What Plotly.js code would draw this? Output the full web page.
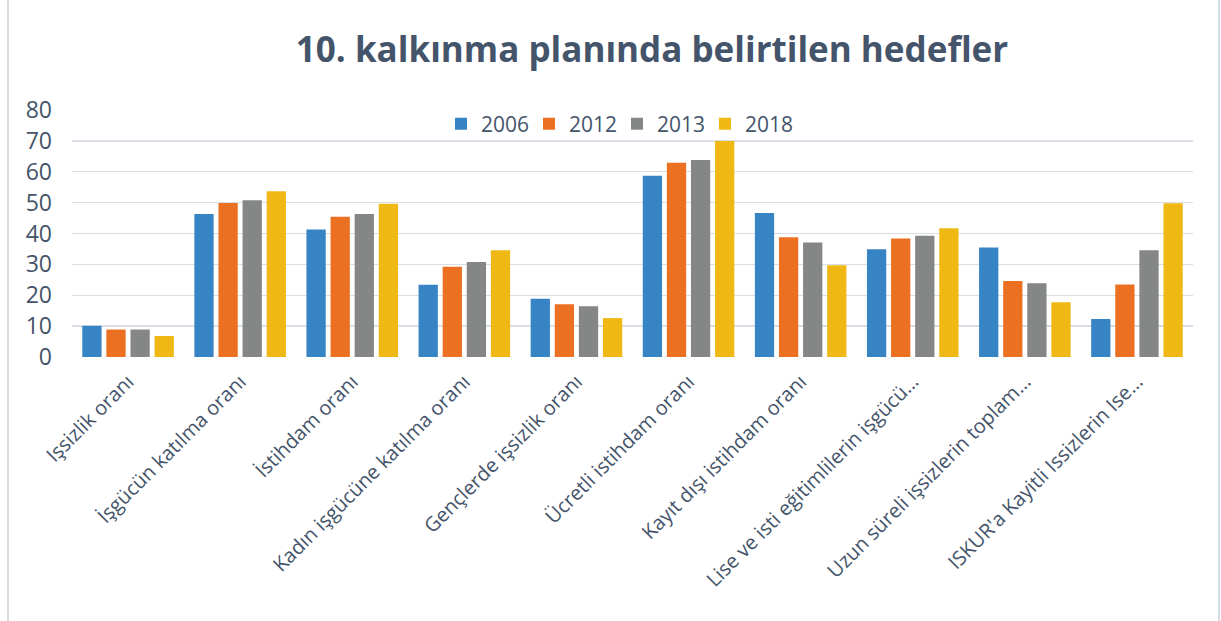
<!DOCTYPE html>
<html>
<head>
<meta charset="utf-8">
<script src="https://cdn.plot.ly/plotly-3.0.1.min.js"></script>
<style>html,body{margin:0;padding:0;background:#fff;}#chart{width:1221px;height:621px;}</style>
</head>
<body>
<div id="chart"></div>
<script>
const categories = [
  "Işsizlik oranı",
  "İşgücün katılma oranı",
  "İstihdam oranı",
  "Kadın işgücüne katılma oranı",
  "Gençlerde işsizlik oranı",
  "Ücretli istihdam oranı",
  "Kayıt dışı istihdam oranı",
  "Lise ve isti eğitimlilerin işgücü…",
  "Uzun süreli işsizlerin toplam…",
  "ISKUR'a Kayitli Issizlerin Ise…"
];
const seriesNames = ["2006", "2012", "2013", "2018"];
const values2006 = [10.1, 46.3, 41.3, 23.4, 18.9, 58.7, 46.6, 34.9, 35.5, 12.3];
const values2012 = [8.9, 49.9, 45.4, 29.2, 17.1, 62.9, 38.8, 38.4, 24.6, 23.5];
const values2013 = [8.9, 50.8, 46.3, 30.8, 16.4, 63.8, 37.1, 39.3, 23.9, 34.6];
const values2018 = [6.8, 53.7, 49.6, 34.6, 12.6, 70.0, 29.7, 41.7, 17.7, 49.8];
const yTicks = [0, 10, 20, 30, 40, 50, 60, 70, 80];

const colors = ["#3784c5", "#ec7021", "#858787", "#f0b814"];
const allValues = [values2006, values2012, values2013, values2018];

const textColor = "#44546A";
const traces = allValues.map((vals, i) => ({
  type: "bar",
  name: seriesNames[i],
  x: categories,
  y: vals,
  marker: {color: colors[i], line: {width: 0}},
  hoverinfo: "x+y+name"
}));

const layout = {
  width: 1221,
  height: 621,
  margin: {l: 72, r: 28, t: 110, b: 264},
  paper_bgcolor: "#ffffff",
  plot_bgcolor: "#ffffff",
  font: {family: "Open Sans, sans-serif", color: textColor},
  title: {
    text: "<b>10. kalkınma planında belirtilen hedefler</b>",
    font: {family: "Open Sans, sans-serif", size: 35, color: textColor},
    xref: "container", x: 652/1221, xanchor: "center",
    yref: "container", y: 1 - 50/621, yanchor: "middle"
  },
  barmode: "group",
  bargap: 0.14,
  bargroupgap: 0.2,
  showlegend: true,
  legend: {
    orientation: "h",
    x: (617 - 72) / 1121, xanchor: "center",
    y: (357 - 124) / 247, yanchor: "middle",
    font: {size: 21, color: textColor},
    bgcolor: "rgba(255,255,255,0)",
    itemwidth: 30,
    entrywidth: 43,
    entrywidthmode: "pixels",
    traceorder: "normal"
  },
  xaxis: {
    type: "category",
    tickangle: -45,
    tickfont: {size: 20, color: textColor},
    showgrid: false,
    showline: false,
    zeroline: false,
    ticks: "",
    ticklabelstandoff: 8
  },
  yaxis: {
    range: [0, 80],
    tickvals: yTicks,
    ticktext: yTicks.map(String),
    tickfont: {size: 23, color: textColor},
    showgrid: true,
    gridcolor: "#d9dee5",
    gridwidth: 1.3,
    zeroline: false,
    showline: false,
    ticklabelstandoff: 19
  },
  shapes: [
    {type: "line", xref: "paper", yref: "paper", x0: -64/1121, x1: -64/1121, y0: -264/247, y1: 1 + 110/247,
     line: {color: "#d6dce4", width: 2}},
    {type: "line", xref: "paper", yref: "paper", x0: 1147/1121, x1: 1147/1121, y0: -264/247, y1: 1 + 110/247,
     line: {color: "#d6dce4", width: 2}}
  ]
};

Plotly.newPlot("chart", traces, layout, {displayModeBar: false, staticPlot: true});
</script>
</body>
</html>
